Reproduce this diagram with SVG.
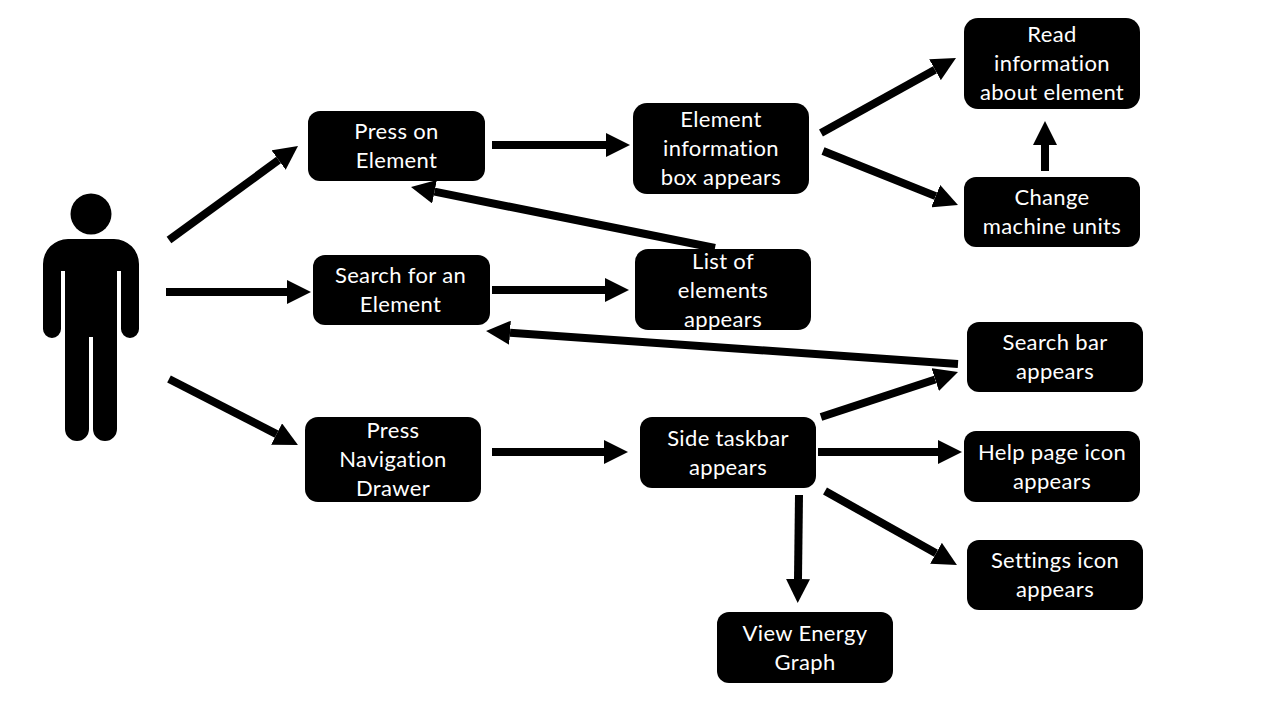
<svg xmlns="http://www.w3.org/2000/svg" width="1280" height="720" viewBox="0 0 1280 720">
<style>
.box{fill:#000}
.lbl{fill:#fff;font-family:"Lato","Carlito","Open Sans",sans-serif;font-size:22px;letter-spacing:.35px;font-variant-ligatures:none;text-anchor:middle}
.arr{stroke:#000;stroke-width:8;fill:none;marker-end:url(#head)}
</style>
<defs>
<marker id="head" markerUnits="userSpaceOnUse" markerWidth="24" markerHeight="24" refX="0" refY="12" orient="auto" viewBox="0 0 24 24"><path d="M0,0L24,12L0,24Z" fill="#000"/></marker>
</defs>
<rect width="1280" height="720" fill="#fff"/>
<g id="person">
<circle cx="91" cy="214" r="20.5"/>
<path d="M68,239H114A25,25 0 0 1 139,264V329A9,9 0 0 1 121,329V271H117V429A12,12 0 0 1 93,429V337H89V429A12,12 0 0 1 65,429V271H61V329A9,9 0 0 1 43,329V264A25,25 0 0 1 68,239Z"/>
</g>
<g id="connectors">
<line class="arr" x1="169" y1="240" x2="278.6" y2="160.1"/>
<line class="arr" x1="166" y1="292" x2="287" y2="292"/>
<line class="arr" x1="169" y1="379" x2="276.6" y2="434.1"/>
<line class="arr" x1="492" y1="145" x2="606" y2="145"/>
<line class="arr" x1="492" y1="290" x2="605" y2="290"/>
<line class="arr" x1="492" y1="452" x2="604" y2="452"/>
<line class="arr" x1="821" y1="133" x2="935" y2="69.7"/>
<line class="arr" x1="823" y1="151" x2="935.7" y2="196.1"/>
<line class="arr" x1="1045" y1="171" x2="1045" y2="145"/>
<line class="arr" x1="715" y1="248" x2="434.5" y2="191.7"/>
<line class="arr" x1="958" y1="364" x2="510" y2="332.7"/>
<line class="arr" x1="821" y1="417" x2="935.2" y2="379.5"/>
<line class="arr" x1="818" y1="452" x2="938" y2="452"/>
<line class="arr" x1="825" y1="491" x2="936" y2="553.3"/>
<line class="arr" x1="799" y1="495" x2="798" y2="579"/>
</g>
<g id="press-element"><rect class="box" x="308" y="111" width="177" height="70" rx="12"/><text class="lbl" x="396.500" y="139">Press on</text><text class="lbl" x="396.500" y="168">Element</text></g>
<g id="element-info"><rect class="box" x="633" y="103" width="176" height="91" rx="14"/><text class="lbl" x="721" y="127">Element</text><text class="lbl" x="721" y="156">information</text><text class="lbl" x="721" y="185">box appears</text></g>
<g id="read-info"><rect class="box" x="964" y="18" width="176" height="91" rx="14"/><text class="lbl" x="1052" y="42">Read</text><text class="lbl" x="1052" y="71">information</text><text class="lbl" x="1052" y="100">about element</text></g>
<g id="change-units"><rect class="box" x="964" y="177" width="176" height="70" rx="12"/><text class="lbl" x="1052" y="205">Change</text><text class="lbl" x="1052" y="234">machine units</text></g>
<g id="search-element"><rect class="box" x="313" y="255" width="177" height="70" rx="12"/><text class="lbl" x="400.500" y="283">Search for an</text><text class="lbl" x="400.500" y="312">Element</text></g>
<g id="list-elements"><rect class="box" x="635" y="249" width="176" height="81" rx="13"/><text class="lbl" x="723" y="269">List of</text><text class="lbl" x="723" y="298">elements</text><text class="lbl" x="723" y="327">appears</text></g>
<g id="search-bar"><rect class="box" x="967" y="322" width="176" height="70" rx="12"/><text class="lbl" x="1055" y="350">Search bar</text><text class="lbl" x="1055" y="379">appears</text></g>
<g id="press-nav"><rect class="box" x="305" y="417" width="176" height="85" rx="13"/><text class="lbl" x="393" y="438">Press</text><text class="lbl" x="393" y="467">Navigation</text><text class="lbl" x="393" y="496">Drawer</text></g>
<g id="side-taskbar"><rect class="box" x="640" y="417" width="176" height="71" rx="12"/><text class="lbl" x="728" y="446">Side taskbar</text><text class="lbl" x="728" y="475">appears</text></g>
<g id="help-icon"><rect class="box" x="964" y="431" width="176" height="71" rx="12"/><text class="lbl" x="1052" y="460">Help page icon</text><text class="lbl" x="1052" y="489">appears</text></g>
<g id="settings-icon"><rect class="box" x="967" y="540" width="176" height="70" rx="12"/><text class="lbl" x="1055" y="568">Settings icon</text><text class="lbl" x="1055" y="597">appears</text></g>
<g id="energy-graph"><rect class="box" x="717" y="612" width="176" height="71" rx="12"/><text class="lbl" x="805" y="641">View Energy</text><text class="lbl" x="805" y="670">Graph</text></g>
</svg>
